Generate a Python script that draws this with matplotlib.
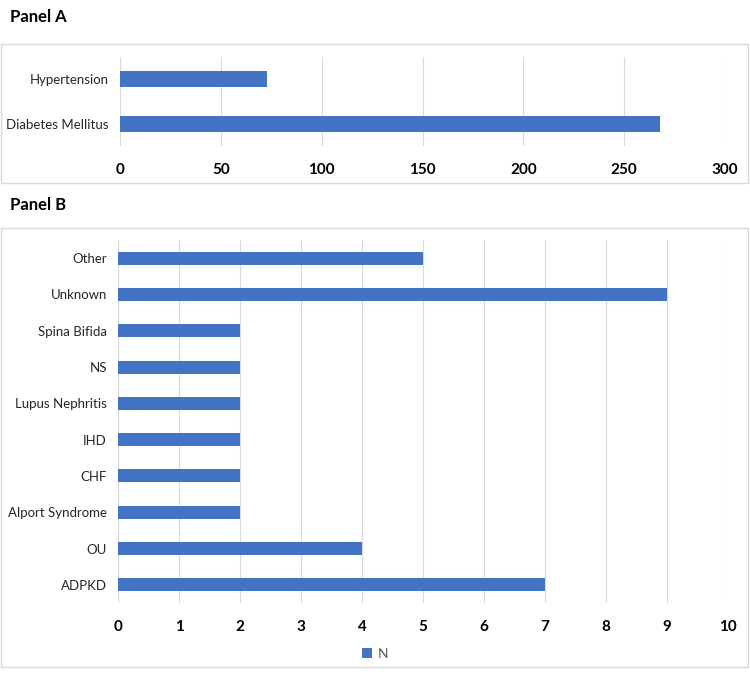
import matplotlib.pyplot as plt
from matplotlib.patches import Rectangle
import numpy as np

plt.rcParams['font.family'] = ['Lato', 'DejaVu Sans']

# Panel A data
a_labels = ['Diabetes Mellitus', 'Hypertension']
a_values = [268, 73]

# Panel B data
b_labels = ['ADPKD', 'OU', 'Alport Syndrome', 'CHF', 'IHD', 'Lupus Nephritis',
            'NS', 'Spina Bifida', 'Unknown', 'Other']
b_values = [7, 4, 2, 2, 2, 2, 2, 2, 9, 5]

bar_color = '#4472C4'
grid_color = '#D9D9D9'
W, H = 750, 675

fig = plt.figure(figsize=(7.5, 6.75), dpi=100)

def fy(p):
    return 1 - p / H

# frame boxes
for top, bottom in [(44, 183), (228, 667)]:
    fig.patches.append(Rectangle((1 / W, fy(bottom)), 747 / W, (bottom - top) / H,
                                 transform=fig.transFigure, fill=False,
                                 edgecolor=grid_color, linewidth=1))

fig.text(10 / W, fy(17), 'Panel A', fontsize=12, fontweight='bold', va='center')
fig.text(10 / W, fy(205), 'Panel B', fontsize=12, fontweight='bold', va='center')

def style(ax, xmax, step):
    ax.set_xlim(0, xmax)
    ax.set_xticks(np.arange(0, xmax + step, step))
    for s in ax.spines.values():
        s.set_visible(False)
    ax.tick_params(axis='both', length=0)
    ax.tick_params(axis='x', pad=12, labelsize=11)
    ax.tick_params(axis='y', pad=8, labelsize=9.5, labelcolor='#262626')
    for t in ax.get_xticklabels():
        t.set_fontweight('bold')
    ax.grid(axis='x', color=grid_color, linewidth=0.8)
    ax.set_axisbelow(True)

# Panel A
axA = fig.add_axes([120 / W, fy(146), 605 / W, 89 / H])
axA.barh(range(len(a_labels)), a_values, height=0.36, color=bar_color)
axA.set_yticks(range(len(a_labels)))
axA.set_yticklabels(a_labels)
axA.set_ylim(-0.5, 1.5)
style(axA, 300, 50)

# Panel B
axB = fig.add_axes([118 / W, fy(603), 610 / W, 363 / H])
axB.barh(range(len(b_labels)), b_values, height=0.36, color=bar_color, label='N')
axB.set_yticks(range(len(b_labels)))
axB.set_yticklabels(b_labels)
axB.set_ylim(-0.5, len(b_labels) - 0.5)
style(axB, 10, 1)

fig.legend(loc='center', bbox_to_anchor=(0.5, fy(654)), frameon=False,
           handlelength=0.7, handleheight=0.7, handletextpad=0.4,
           fontsize=10, labelcolor='#595959')

fig.savefig('out.png', dpi=100)
